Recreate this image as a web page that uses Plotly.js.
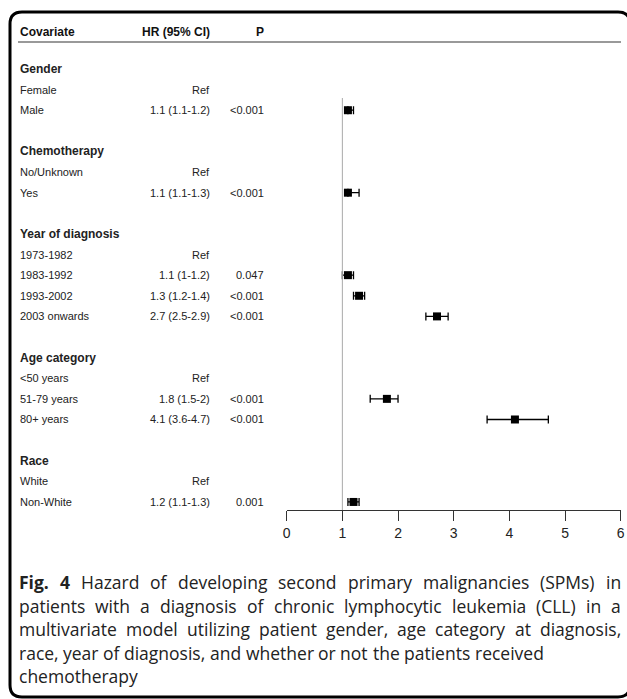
<!DOCTYPE html>
<html>
<head>
<meta charset="utf-8">
<script src="https://cdn.plot.ly/plotly-3.0.1.min.js"></script>
<style>
  html, body { margin: 0; padding: 0; background: #fff; }
  #chart { width: 627px; height: 699px; }
</style>
</head>
<body>
<div id="chart"></div>
<script>
// ---- Data ----
const headerLabels = ["Covariate", "HR (95% CI)", "P"];
const rowLabels = ["Gender", "Female", "Male", "",
  "Chemotherapy", "No/Unknown", "Yes", "",
  "Year of diagnosis", "1973-1982", "1983-1992", "1993-2002", "2003 onwards", "",
  "Age category", "<50 years", "51-79 years", "80+ years", "",
  "Race", "White", "Non-White"];
const isHeading = [1,0,0,0, 1,0,0,0, 1,0,0,0,0,0, 1,0,0,0,0, 1,0,0];
const hrText = ["", "Ref", "1.1 (1.1-1.2)", "",
  "", "Ref", "1.1 (1.1-1.3)", "",
  "", "Ref", "1.1 (1-1.2)", "1.3 (1.2-1.4)", "2.7 (2.5-2.9)", "",
  "", "Ref", "1.8 (1.5-2)", "4.1 (3.6-4.7)", "",
  "", "Ref", "1.2 (1.1-1.3)"];
const pText = ["", "", "<0.001", "",
  "", "", "<0.001", "",
  "", "", "0.047", "<0.001", "<0.001", "",
  "", "", "<0.001", "<0.001", "",
  "", "", "0.001"];
const hr = [null, null, 1.1, null,
  null, null, 1.1, null,
  null, null, 1.1, 1.3, 2.7, null,
  null, null, 1.8, 4.1, null,
  null, null, 1.2];
const lo = [null, null, 1.1, null,
  null, null, 1.1, null,
  null, null, 1.0, 1.2, 2.5, null,
  null, null, 1.5, 3.6, null,
  null, null, 1.1];
const hi = [null, null, 1.2, null,
  null, null, 1.3, null,
  null, null, 1.2, 1.4, 2.9, null,
  null, null, 2.0, 4.7, null,
  null, null, 1.3];
const xTicks = [0, 1, 2, 3, 4, 5, 6];
const captionLead = "Fig. 4";
const captionLines = [
  "Hazard of developing second primary malignancies (SPMs) in",
  "patients with a diagnosis of chronic lymphocytic leukemia (CLL) in a",
  "multivariate model utilizing patient gender, age category at diagnosis,",
  "race, year of diagnosis, and whether or not the patients received",
  "chemotherapy"
];
const captionJustified = [true, true, true, false, false];

// ---- Geometry helpers ----
const W = 627, H = 699;
const px = v => v / W;
const py = v => 1 - v / H;
const esc = s => s.replace(/</g, '&lt;');

const xs = [], ys = [], ep = [], em = [];
hr.forEach((v, i) => {
  if (v !== null) { xs.push(v); ys.push(i); ep.push(hi[i] - v); em.push(v - lo[i]); }
});

const trace = {
  type: 'scatter', mode: 'markers', x: xs, y: ys,
  marker: { symbol: 'square', size: 8, color: '#000' },
  error_x: { type: 'data', symmetric: false, array: ep, arrayminus: em,
             color: '#000', thickness: 1.3, width: 4 },
  cliponaxis: false, hoverinfo: 'skip'
};

const fontTable = 'Arial, "Liberation Sans", sans-serif';
const ann = [];
const headerK = -1.794;
const hdrFont = { family: fontTable, size: 12, color: '#111' };
ann.push({ text: '<b>' + headerLabels[0] + '</b>', xref: 'paper', yref: 'y', x: px(18), y: headerK, xanchor: 'left', yanchor: 'middle', showarrow: false, font: hdrFont });
ann.push({ text: '<b>' + headerLabels[1] + '</b>', xref: 'paper', yref: 'y', x: px(212), y: headerK, xanchor: 'right', yanchor: 'middle', showarrow: false, font: hdrFont });
ann.push({ text: '<b>' + headerLabels[2] + '</b>', xref: 'paper', yref: 'y', x: px(266), y: headerK, xanchor: 'right', yanchor: 'middle', showarrow: false, font: hdrFont });

rowLabels.forEach((lab, i) => {
  if (lab) {
    ann.push({ text: isHeading[i] ? '<b>' + esc(lab) + '</b>' : esc(lab),
      xref: 'paper', yref: 'y', x: px(18), y: i, xanchor: 'left', yanchor: 'middle', showarrow: false,
      font: { family: fontTable, size: isHeading[i] ? 12 : 11, color: '#222' } });
  }
  if (hrText[i]) {
    ann.push({ text: esc(hrText[i]), xref: 'paper', yref: 'y', x: px(212), y: i, xanchor: 'right', yanchor: 'middle', showarrow: false,
      font: { family: fontTable, size: 11, color: '#222' } });
  }
  if (pText[i]) {
    ann.push({ text: esc(pText[i]), xref: 'paper', yref: 'y', x: px(266), y: i, xanchor: 'right', yanchor: 'middle', showarrow: false,
      font: { family: fontTable, size: 11, color: '#222' } });
  }
});

// ---- Caption (justified like the journal figure legend) ----
const capFamily = '"Open Sans", "Noto Sans", sans-serif';
const capSize = 17.5;
const capLeft = 18, capRight = 620;
const capY = [582, 605.5, 629, 652.5, 676];
const cvs = document.createElement('canvas');
const ctx = cvs.getContext('2d');
function measure(t, bold) {
  ctx.font = (bold ? 'bold ' : '') + capSize + 'px "Open Sans"';
  return ctx.measureText(t).width;
}
captionLines.forEach((line, j) => {
  const words = line.split(' ').map(t => ({ t, b: false }));
  if (j === 0) {
    const lead = captionLead.split(' ').map(t => ({ t, b: true }));
    words.unshift(...lead);
  }
  const widths = words.map(w => measure(w.t, w.b));
  const sumW = widths.reduce((a, b) => a + b, 0);
  const space = measure(' ', false);
  const gap = captionJustified[j] ? (capRight - capLeft - sumW) / (words.length - 1) : space;
  let x = capLeft;
  words.forEach((w, k) => {
    ann.push({ text: w.b ? '<b>' + w.t + '</b>' : w.t, xref: 'paper', yref: 'paper',
      x: px(x - 1), y: py(capY[j]), xanchor: 'left', yanchor: 'middle', showarrow: false,
      font: { family: capFamily, size: capSize, color: '#222' } });
    x += widths[k] + gap;
  });
});

// rounded border
const L = 10, T = 12, R = 630, B = 697, r = 12;
const borderPath = [
  'M', px(L), py(T + r),
  'Q', px(L), py(T), px(L + r), py(T),
  'L', px(R - r), py(T),
  'Q', px(R), py(T), px(R), py(T + r),
  'L', px(R), py(B - r),
  'Q', px(R), py(B), px(R - r), py(B),
  'L', px(L + r), py(B),
  'Q', px(L), py(B), px(L), py(B - r),
  'Z'].join(' ');

const shapes = [
  { type: 'path', xref: 'paper', yref: 'paper', path: borderPath, line: { color: '#000', width: 3 } },
  { type: 'line', xref: 'paper', yref: 'paper', x0: px(18), x1: px(621), y0: py(42), y1: py(42), line: { color: '#999', width: 2 } },
  { type: 'line', xref: 'x', yref: 'paper', x0: 1, x1: 1, y0: py(510), y1: py(98), line: { color: '#aaa', width: 1 } }
];

const layout = {
  width: W, height: H,
  margin: { l: 0, r: 0, t: 0, b: 0 },
  paper_bgcolor: '#fff', plot_bgcolor: 'rgba(0,0,0,0)',
  showlegend: false,
  xaxis: { domain: [px(286.7), px(620.7)], range: [0, 6], tickvals: xTicks, ticktext: xTicks.map(String),
           ticks: 'outside', ticklen: 10, tickwidth: 1, tickcolor: '#333',
           showline: true, linecolor: '#333', linewidth: 1, showgrid: false, zeroline: false,
           tickfont: { family: fontTable, size: 14, color: '#222' }, fixedrange: true },
  yaxis: { domain: [py(510), py(32)], range: [21.39, headerK], visible: false, showgrid: false, zeroline: false, fixedrange: true },
  annotations: ann,
  shapes: shapes
};

Plotly.newPlot('chart', [trace], layout, { displayModeBar: false, staticPlot: true });
</script>
</body>
</html>
